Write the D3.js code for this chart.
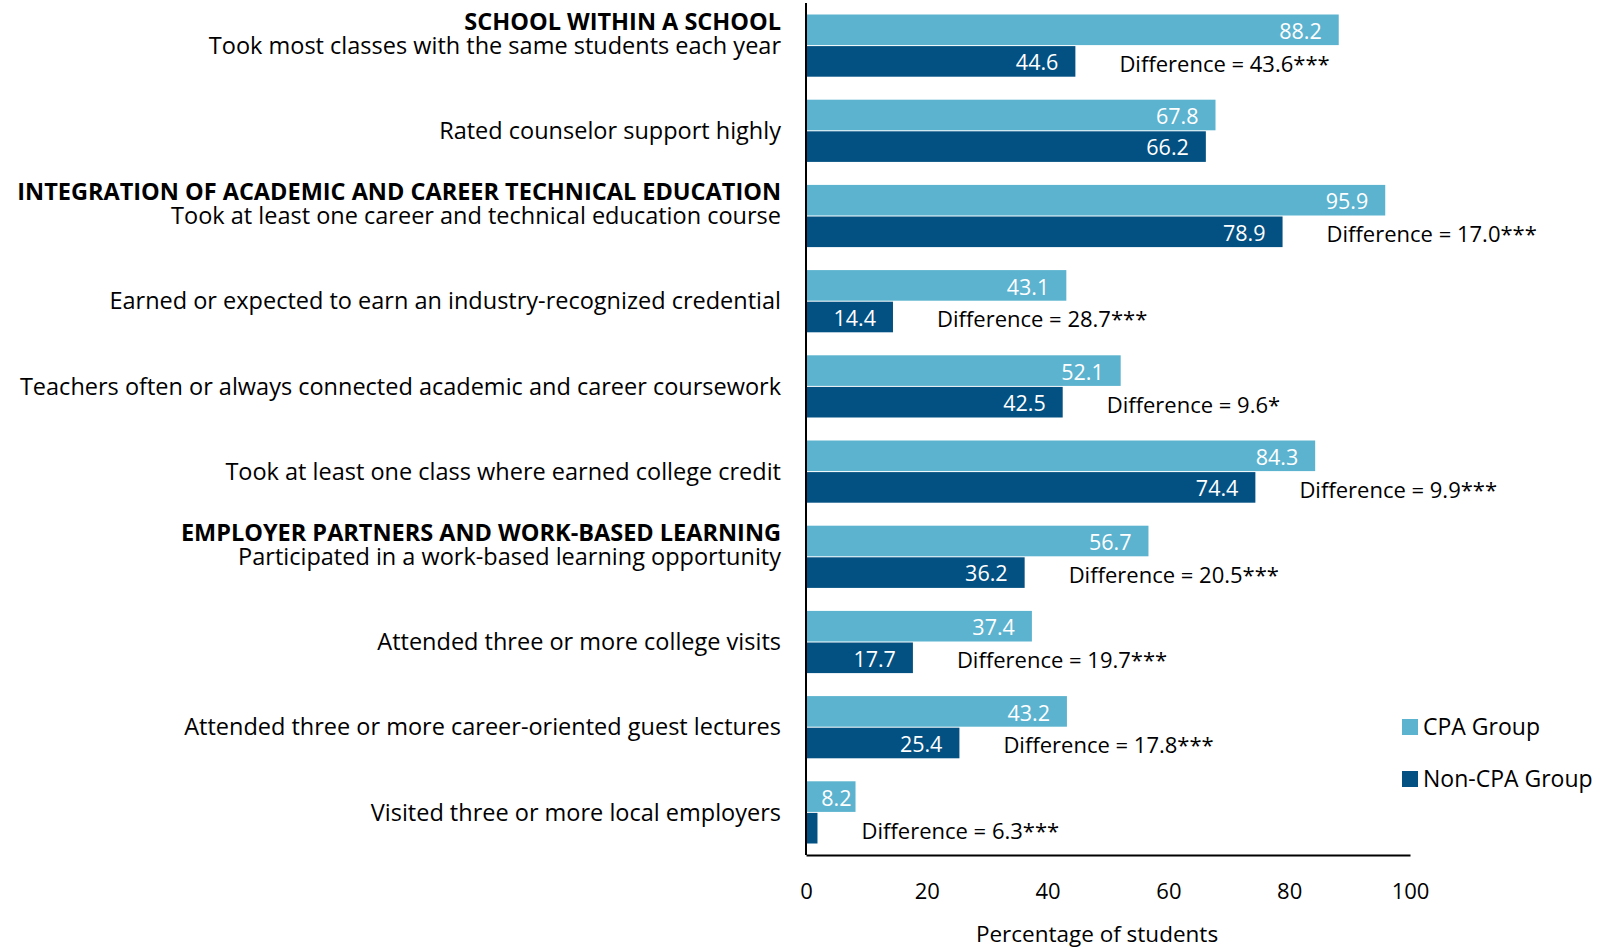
<!DOCTYPE html>
<html>
<head>
<meta charset="utf-8">
<script src="https://cdn.jsdelivr.net/npm/d3@7"></script>
<style>
  body { margin: 0; background: #fff; }
  text { font-family: "Open Sans", "Noto Sans", sans-serif; fill: #000; }
</style>
</head>
<body>
<svg id="chart" width="1608" height="950"></svg>
<script>
const headings = [
  "SCHOOL WITHIN A SCHOOL", null,
  "INTEGRATION OF ACADEMIC AND CAREER TECHNICAL EDUCATION", null, null, null,
  "EMPLOYER PARTNERS AND WORK-BASED LEARNING", null, null, null
];
const categories = [
  "Took most classes with the same students each year",
  "Rated counselor support highly",
  "Took at least one career and technical education course",
  "Earned or expected to earn an industry-recognized credential",
  "Teachers often or always connected academic and career coursework",
  "Took at least one class where earned college credit",
  "Participated in a work-based learning opportunity",
  "Attended three or more college visits",
  "Attended three or more career-oriented guest lectures",
  "Visited three or more local employers"
];
const cpaValues = [88.2, 67.8, 95.9, 43.1, 52.1, 84.3, 56.7, 37.4, 43.2, 8.2];
const nonCpaValues = [44.6, 66.2, 78.9, 14.4, 42.5, 74.4, 36.2, 17.7, 25.4, 1.9];
const differences = [43.6, null, 17.0, 28.7, 9.6, 9.9, 20.5, 19.7, 17.8, 6.3];
const significance = ["***", "", "***", "***", "*", "***", "***", "***", "***", "***"];
const seriesNames = ["CPA Group", "Non-CPA Group"];
const xTicks = [0, 20, 40, 60, 80, 100];
const axisTitle = "Percentage of students";

const colors = ["#5bb3cf", "#035082"];
const svg = d3.select("#chart");

const x = d3.scaleLinear().domain([0, 100]).range([806, 1410]);
const y = d3.scaleBand().domain(d3.range(categories.length)).range([3, 855])
  .paddingInner(0.27).paddingOuter(0.135);
const bw = y.bandwidth();
const half = bw / 2;

const rows = categories.map((c, i) => ({
  i, label: c, heading: headings[i], cpa: cpaValues[i], non: nonCpaValues[i],
  diff: differences[i], sig: significance[i]
}));

// bars
const g = svg.append("g");
g.selectAll("rect.cpa").data(rows).join("rect")
  .attr("x", x(0)).attr("y", d => y(d.i))
  .attr("width", d => x(d.cpa) - x(0)).attr("height", half - 0.5)
  .attr("fill", colors[0]);
g.selectAll("rect.non").data(rows).join("rect")
  .attr("x", x(0)).attr("y", d => y(d.i) + half + 0.5)
  .attr("width", d => x(d.non) - x(0)).attr("height", half - 0.5)
  .attr("fill", colors[1]);

// value labels
function labelX(v) {
  const w = x(v) - x(0);
  return w < 80 ? x(v) - 4 : x(v) - 17;
}
const vfs = 21.5;
g.selectAll("text.vc").data(rows).join("text")
  .attr("x", d => labelX(d.cpa)).attr("y", d => y(d.i) + half / 2 + 1.5)
  .attr("dy", "0.35em").attr("text-anchor", "end")
  .style("font-size", vfs + "px").style("fill", "#fff")
  .text(d => d.cpa.toFixed(1));
g.selectAll("text.vn").data(rows.filter(d => x(d.non) - x(0) > 40)).join("text")
  .attr("x", d => labelX(d.non)).attr("y", d => y(d.i) + half * 1.5 + 1.5)
  .attr("dy", "0.35em").attr("text-anchor", "end")
  .style("font-size", vfs + "px").style("fill", "#fff")
  .text(d => d.non.toFixed(1));

// difference labels
g.selectAll("text.diff").data(rows.filter(d => d.diff !== null)).join("text")
  .attr("x", d => x(d.non) + 44).attr("y", d => y(d.i) + half * 1.5 + 3)
  .attr("dy", "0.35em")
  .style("font-size", "22px")
  .text(d => "Difference = " + d.diff.toFixed(1) + d.sig);

// category labels (heading + label in one text element)
const lx = 781;
const cfs = 23.5;
const cat = svg.selectAll("text.cat").data(rows).join("text")
  .attr("class", "cat")
  .attr("text-anchor", "end")
  .style("font-size", cfs + "px");
cat.each(function(d) {
  const t = d3.select(this);
  const baseY = y(d.i) + bw / 2;
  if (d.heading) {
    t.append("tspan").attr("x", lx).attr("y", baseY - 24).attr("dy", "0.35em")
      .style("font-weight", "bold").text(d.heading);
  }
  t.append("tspan").attr("x", lx).attr("y", baseY).attr("dy", "0.35em").text(d.label);
});

// axes
svg.append("line").attr("x1", x(0)).attr("x2", x(0)).attr("y1", 3).attr("y2", 855)
  .attr("stroke", "#000").attr("stroke-width", 2);
const xAxis = svg.append("g").attr("transform", "translate(0,855)")
  .call(d3.axisBottom(x).tickValues(xTicks).tickSize(0).tickPadding(28));
xAxis.select(".domain").attr("stroke", "#000").attr("stroke-width", 2);
xAxis.selectAll("text").style("font-size", "22px").style("font-family", '"Open Sans", sans-serif').attr("fill", "#000");
svg.append("text").attr("x", 1097).attr("y", 934).attr("dy", "0.35em")
  .attr("text-anchor", "middle").style("font-size", "22.5px").text(axisTitle);

// legend
const leg = svg.append("g");
seriesNames.forEach((n, i) => {
  const cy = 727 + i * 52;
  leg.append("rect").attr("x", 1402).attr("y", cy - 8).attr("width", 16).attr("height", 16).attr("fill", colors[i]);
  leg.append("text").attr("x", 1423).attr("y", cy).attr("dy", "0.35em")
    .style("font-size", "23px").text(n);
});
</script>
</body>
</html>
